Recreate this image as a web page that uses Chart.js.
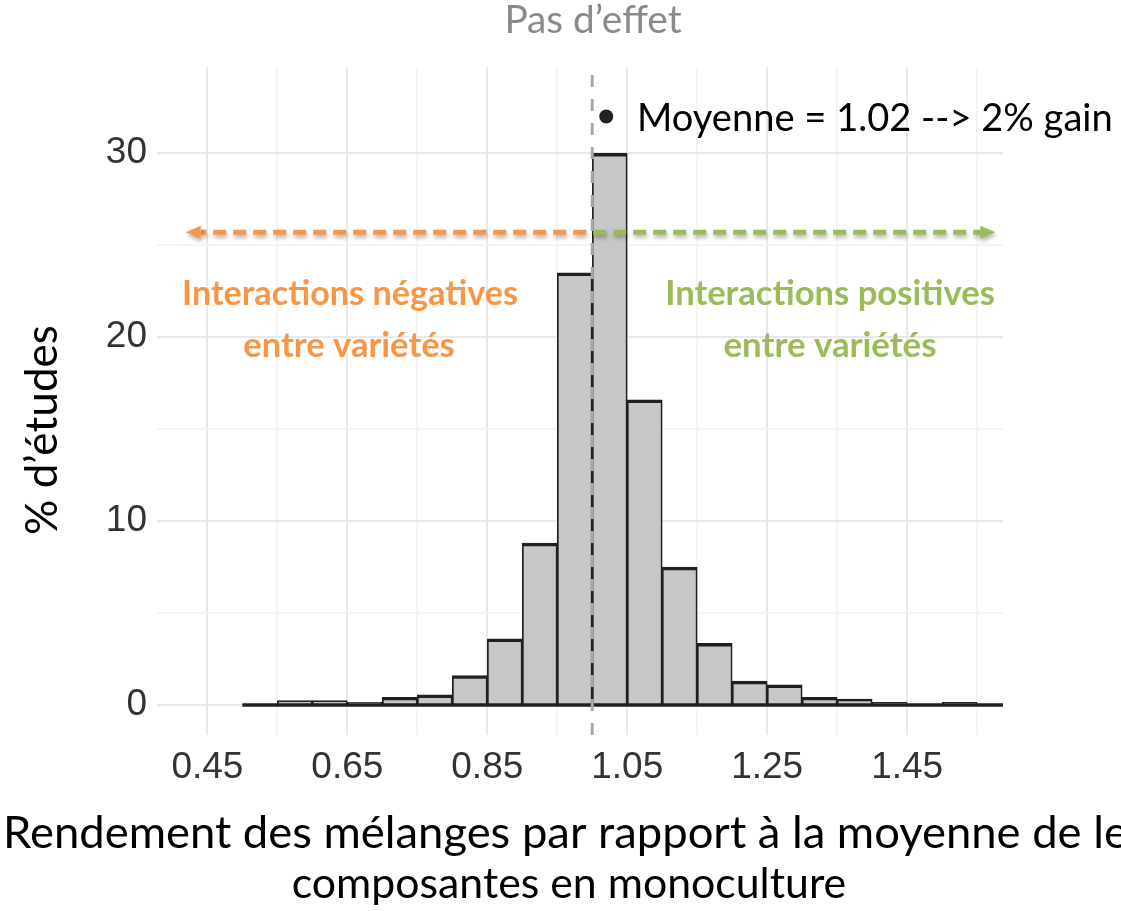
<!DOCTYPE html>
<html lang="fr">
<head>
<meta charset="utf-8">
<title>Rendement des mélanges</title>
<script src="https://cdn.jsdelivr.net/npm/chart.js@4"></script>
<style>
  html, body { margin: 0; padding: 0; background: #fff; }
  canvas { display: block; }
</style>
</head>
<body>
<canvas id="chart" width="1121" height="911"></canvas>
<script>
// Histogramme : % d'études par classe de rendement relatif (mélange / moyenne des composantes).
// Classes de largeur 0.05, bornes inférieures ci-dessous.
const BIN_LOWER = [0.50, 0.55, 0.60, 0.65, 0.70, 0.75, 0.80, 0.85, 0.90, 0.95, 1.00,
                   1.05, 1.10, 1.15, 1.20, 1.25, 1.30, 1.35, 1.40, 1.45, 1.50, 1.55];
const BIN_WIDTH = 0.05;
const PCT_ETUDES = [0.05, 0.24, 0.24, 0.15, 0.42, 0.55, 1.6, 3.6, 8.8, 23.5, 30.0,
                    16.6, 7.5, 3.35, 1.3, 1.1, 0.42, 0.32, 0.14, 0.02, 0.14, 0];

const X_GRID_TICKS = [0.45, 0.55, 0.65, 0.75, 0.85, 0.95, 1.05, 1.15, 1.25, 1.35, 1.45, 1.55];
const X_TICK_LABELS = ["0.45", "0.65", "0.85", "1.05", "1.25", "1.45"];
const Y_GRID_TICKS = [0, 5, 10, 15, 20, 25, 30];
const Y_TICK_LABELS = ["0", "10", "20", "30"];

const NO_EFFECT = 1.0;       // ligne « Pas d'effet »
const MEAN_RATIO = 1.02;     // moyenne
const MEAN_MARK_Y = 32;      // hauteur du point de la moyenne
const ARROW_LEVEL = 25.7;    // hauteur des flèches
const NEG_TIP = 0.419, POS_TIP = 1.576;

// limites des axes (expansion ggplot)
const X_MIN = 0.378, X_MAX = 1.587;
const Y_MIN = -1.63, Y_MAX = 34.69;

const BAR_FILL = "#c6c7c9";
const INK = "#231f20";
const ORANGE = "#f79646";
const GREEN = "#9bbb59";
const GRID_MAJOR = "#e9e9e9";
const GRID_MINOR = "#f4f4f4";
const TICK_FONT = "'Liberation Sans', Arial, sans-serif";
const TEXT_FONT = "Lato, 'Open Sans', sans-serif";

const isLabeled = (labels, v) => labels.some((l) => Math.abs(parseFloat(l) - v) < 1e-6);

const barData = BIN_LOWER.map((lo, i) => ({ x: lo + BIN_WIDTH / 2, y: PCT_ETUDES[i] }));
const lastEdge = BIN_LOWER[BIN_LOWER.length - 1] + BIN_WIDTH;

// texte ajusté à une largeur cible (Calibri n'est pas disponible)
function fitFont(ctx, text, weight, width) {
  ctx.font = `${weight} 100px ${TEXT_FONT}`;
  const size = 100 * width / ctx.measureText(text).width;
  return `${weight} ${size.toFixed(1)}px ${TEXT_FONT}`;
}

const LABELS = [
  { text: "Pas d’effet", x: 593, y: 33, w: 177, weight: 400, color: "#8a8a8a", align: "center" },
  { text: "Moyenne = 1.02 --> 2% gain", x: 637, y: 131, w: 476, weight: 400, color: "#000", align: "left" },
  { text: "Interactions négatives", x: 350, y: 305, w: 336, weight: 700, color: ORANGE, align: "center" },
  { text: "entre variétés", x: 349, y: 357, w: 212, weight: 700, color: ORANGE, align: "center" },
  { text: "Interactions positives", x: 830, y: 305, w: 330, weight: 700, color: GREEN, align: "center" },
  { text: "entre variétés", x: 830, y: 357, w: 213, weight: 700, color: GREEN, align: "center" },
  { text: "Rendement des mélanges par rapport à la moyenne de le", x: 3, y: 848, w: 1125, weight: 400, color: "#000", align: "left" },
  { text: "composantes en monoculture", x: 569, y: 898, w: 554, weight: 400, color: "#000", align: "center" },
];

function drawArrow(ctx, from, tip, y, color) {
  const dir = Math.sign(tip - from);
  const head = 15;
  ctx.save();
  ctx.shadowColor = "rgba(0,0,0,0.3)";
  ctx.shadowBlur = 4;
  ctx.shadowOffsetX = 1;
  ctx.shadowOffsetY = 3;
  ctx.strokeStyle = color;
  ctx.lineWidth = 5;
  ctx.setLineDash([13, 7]);
  ctx.beginPath();
  ctx.moveTo(from, y);
  ctx.lineTo(tip - dir * head, y);
  ctx.stroke();
  ctx.setLineDash([]);
  ctx.fillStyle = color;
  ctx.beginPath();
  ctx.moveTo(tip, y);
  ctx.lineTo(tip - dir * head, y - 6.5);
  ctx.lineTo(tip - dir * head, y + 6.5);
  ctx.closePath();
  ctx.fill();
  ctx.restore();
}

const annotations = {
  id: "annotations",
  afterDraw(chart) {
    const { ctx, scales: { x, y } } = chart;
    const yA = y.getPixelForValue(ARROW_LEVEL);
    const xMid = x.getPixelForValue(NO_EFFECT);
    drawArrow(ctx, xMid - 6, x.getPixelForValue(NEG_TIP), yA, ORANGE);
    drawArrow(ctx, xMid + 1, x.getPixelForValue(POS_TIP), yA, GREEN);

    ctx.save();
    ctx.textBaseline = "alphabetic";
    LABELS.forEach((l) => {
      ctx.font = fitFont(ctx, l.text, l.weight, l.w);
      ctx.fillStyle = l.color;
      ctx.textAlign = l.align;
      ctx.fillText(l.text, l.x, l.y);
    });
    // titre de l'axe y
    const yTitle = "% d’études";
    ctx.translate(57, 430);
    ctx.rotate(-Math.PI / 2);
    ctx.font = fitFont(ctx, yTitle, 400, 210);
    ctx.fillStyle = "#000";
    ctx.textAlign = "center";
    ctx.fillText(yTitle, 0, 0);
    ctx.restore();
  },
};

new Chart(document.getElementById("chart"), {
  data: {
    datasets: [
      {
        type: "scatter", order: 1, data: [{ x: MEAN_RATIO, y: MEAN_MARK_Y }],
        pointRadius: 7, backgroundColor: "#222", borderWidth: 0,
      },
      {
        type: "line", order: 2, data: [{ x: NO_EFFECT, y: Y_MIN }, { x: NO_EFFECT, y: Y_MAX }],
        borderColor: "#a9a9a9", borderWidth: 3, borderDash: [12, 12], pointRadius: 0,
      },
      {
        type: "line", order: 3, data: [{ x: BIN_LOWER[0], y: 0 }, { x: lastEdge, y: 0 }],
        borderColor: INK, borderWidth: 3.5, pointRadius: 0,
      },
      {
        type: "bar", order: 4, data: barData,
        backgroundColor: BAR_FILL, borderColor: INK,
        borderWidth: { top: 3.5, left: 1.75, right: 1.75, bottom: 0 }, borderSkipped: "start",
        barPercentage: 1, categoryPercentage: 1, grouped: false,
      },
    ],
  },
  options: {
    responsive: false,
    animation: false,
    layout: { padding: { top: 67, right: 118, bottom: 0, left: 0 } },
    plugins: { legend: { display: false }, tooltip: { enabled: false } },
    scales: {
      x: {
        type: "linear", min: X_MIN, max: X_MAX, offset: false,
        afterBuildTicks: (s) => { s.ticks = X_GRID_TICKS.map((v) => ({ value: v })); },
        afterFit: (s) => { s.height = 176; },
        grid: { offset: false, drawTicks: false, lineWidth: 2, color: (c) => (c.tick && isLabeled(X_TICK_LABELS, c.tick.value) ? GRID_MAJOR : GRID_MINOR) },
        border: { display: false },
        ticks: {
          autoSkip: false, maxRotation: 0, padding: 11, color: "#333",
          font: { family: TICK_FONT, size: 37 },
          callback: (v) => X_TICK_LABELS.find((l) => Math.abs(parseFloat(l) - v) < 1e-6) || "",
        },
      },
      y: {
        type: "linear", min: Y_MIN, max: Y_MAX,
        afterBuildTicks: (s) => { s.ticks = Y_GRID_TICKS.map((v) => ({ value: v })); },
        afterFit: (s) => { s.width = 157; },
        grid: { drawTicks: false, lineWidth: 2, color: (c) => (c.tick && isLabeled(Y_TICK_LABELS, c.tick.value) ? GRID_MAJOR : GRID_MINOR) },
        border: { display: false },
        ticks: {
          padding: 10, color: "#333",
          font: { family: TICK_FONT, size: 37 },
          callback: (v) => Y_TICK_LABELS.find((l) => Math.abs(parseFloat(l) - v) < 1e-6) || "",
        },
      },
    },
  },
  plugins: [annotations],
});
</script>
</body>
</html>
